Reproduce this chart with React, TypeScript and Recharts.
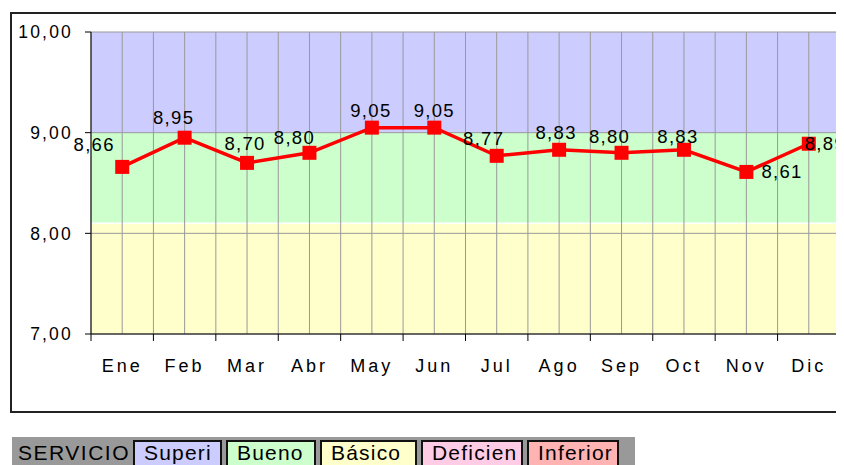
import React from "react";
import {
  LineChart,
  Line,
  XAxis,
  YAxis,
  ReferenceArea,
  ReferenceLine,
  LabelList,
} from "recharts";

const months = ["Ene", "Feb", "Mar", "Abr", "May", "Jun", "Jul", "Ago", "Sep", "Oct", "Nov", "Dic"];
const scores = [8.66, 8.95, 8.7, 8.8, 9.05, 9.05, 8.77, 8.83, 8.8, 8.83, 8.61, 8.89];
const yTicks = [7, 8, 9, 10];
// band limits: basico 7-8.1, bueno 8.1-9, superior 9-10
const bandLimits = [7, 8.1, 9, 10];
const legendLabels = ["Superi", "Bueno", "Básico", "Deficien", "Inferior"];

const bandColors = ["#FFFFCC", "#CCFFCC", "#CCCCFF"];
const legendColors = ["#CCCCFF", "#CCFFCC", "#FFFFCC", "#FFCCE6", "#FFB3B3"];
const legendWidths = [89, 90, 97, 102, 92];

// label nudges (Excel placed them by hand-ish)
const labelShift: [number, number, string][] = [
  [-28, -22, "middle"],
  [-11, -20, "middle"],
  [-2, -19, "middle"],
  [-15, -15, "middle"],
  [-1, -17, "middle"],
  [0, -17, "middle"],
  [-13, -17, "middle"],
  [-3, -17, "middle"],
  [-12, -16, "middle"],
  [-6, -13, "middle"],
  [15, 0, "start"],
  [-4, 0, "start"],
];

const data = months.map((m, i) => ({ x: i + 0.5, month: m, score: scores[i] }));
const xTicks = months.flatMap((_, i) => [i, i + 0.5]).concat([months.length]);
const FONT = "'Liberation Sans', Arial, sans-serif";
const fmt = (v: number) => v.toFixed(2).replace(".", ",");

const XTick = (props: any) => {
  const { x, y, payload } = props;
  const v = payload.value;
  if (Number.isInteger(v)) {
    return <line x1={x} x2={x} y1={y} y2={y + 7} stroke="#000" />;
  }
  return (
    <text x={x} y={y + 38} textAnchor="middle" fontSize={18} letterSpacing={3} fill="#000" fontFamily={FONT}>
      {months[Math.floor(v)]}
    </text>
  );
};

const Square = (props: any) => {
  const { cx, cy, index } = props;
  return <rect key={index} x={cx - 7} y={cy - 7} width={14} height={14} fill="#FF0000" />;
};

const ValueLabel = (props: any) => {
  const { x, y, value, index } = props;
  const [dx, dy, anchor] = labelShift[index];
  return (
    <text
      x={x + dx}
      y={y + dy}
      textAnchor={anchor as any}
      dominantBaseline="central"
      fontSize={18.5}
      letterSpacing={1.3}
      fill="#000"
      fontFamily={FONT}
    >
      {fmt(value)}
    </text>
  );
};

export default function App() {
  return (
    <div style={{ width: 836, height: 457, overflow: "hidden", fontFamily: FONT }}>
      <div
        style={{
          marginLeft: 2,
          marginTop: 4,
          width: 850,
          height: 401,
          boxSizing: "border-box",
          border: "2px solid #222",
        }}
      >
        <LineChart width={840} height={397} data={data} margin={{ top: 18, right: 12, bottom: 37, left: 9 }}>
          {bandLimits.slice(1).map((top, i) => (
            <ReferenceArea
              key={"band" + i}
              y1={bandLimits[i]}
              y2={top}
              fill={bandColors[i]}
              fillOpacity={1}
              stroke="none"
            />
          ))}
          <ReferenceLine y={bandLimits[1]} stroke="#fff" strokeWidth={1.5} />
          {xTicks.map((v) => (
            <ReferenceLine key={"vx" + v} x={v} stroke="#999" />
          ))}
          {yTicks.map((v) => (
            <ReferenceLine key={"hy" + v} y={v} stroke="#999" />
          ))}
          <XAxis
            dataKey="x"
            type="number"
            domain={[0, months.length]}
            ticks={xTicks}
            interval={0}
            tickLine={false}
            tickSize={0}
            tickMargin={0}
            tick={<XTick />}
            axisLine={{ stroke: "#000" }}
            height={40}
          />
          <YAxis
            domain={[7, 10]}
            ticks={yTicks}
            tickFormatter={fmt}
            tickSize={6}
            tickMargin={12}
            tickLine={{ stroke: "#000" }}
            axisLine={{ stroke: "#000" }}
            tick={{ fontSize: 17.5, fill: "#000", letterSpacing: 2.2, fontFamily: FONT }}
            width={70}
          />
          <Line
            dataKey="score"
            stroke="#FF0000"
            strokeWidth={3.5}
            dot={<Square />}
            activeDot={false}
            isAnimationActive={false}
          >
            <LabelList dataKey="score" content={<ValueLabel />} />
          </Line>
        </LineChart>
      </div>
      <div
        style={{
          marginLeft: 4,
          marginTop: 24,
          width: 623,
          height: 40,
          background: "#999999",
          display: "flex",
          alignItems: "flex-start",
          paddingTop: 3,
          boxSizing: "border-box",
          fontSize: 21,
          color: "#000",
        }}
      >
        <span style={{ width: 121, paddingLeft: 6, lineHeight: "26px", letterSpacing: 1.5, boxSizing: "border-box" }}>
          SERVICIO
        </span>
        {legendLabels.map((t, i) => (
          <span
            key={t}
            style={{
              width: legendWidths[i],
              height: 34,
              boxSizing: "border-box",
              border: "2px solid #111",
              background: legendColors[i],
              marginRight: 4,
              paddingLeft: 9,
              lineHeight: "22px",
              letterSpacing: 1.2,
              overflow: "hidden",
              whiteSpace: "nowrap",
            }}
          >
            {t}
          </span>
        ))}
      </div>
    </div>
  );
}
